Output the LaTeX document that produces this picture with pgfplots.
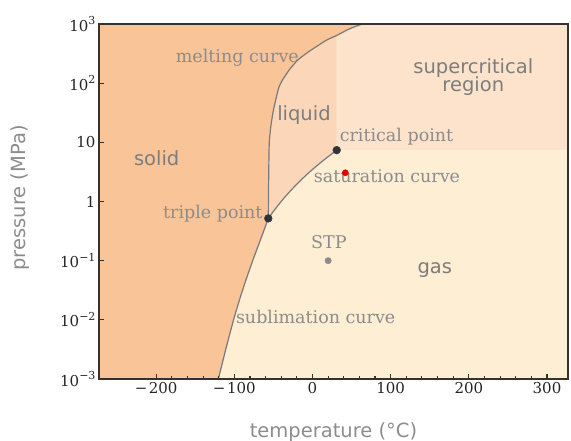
\documentclass[border=0pt]{standalone}
\usepackage{pgfplots}
\pgfplotsset{compat=1.18}
\usepackage{fontspec}
\setmainfont{DejaVu Serif}
\newfontfamily\sansf{DejaVu Sans}
\definecolor{solidc}{RGB}{249,196,152}
\definecolor{liquidc}{RGB}{252,214,184}
\definecolor{superc}{RGB}{253,227,204}
\definecolor{gasc}{RGB}{254,238,212}
\definecolor{serifgray}{RGB}{140,140,140}
\definecolor{sansgray}{RGB}{125,125,125}
\definecolor{curvegray}{RGB}{122,122,122}
\definecolor{ptdark}{RGB}{48,52,58}
\definecolor{axisdark}{RGB}{50,50,50}
\newcommand{\tp}[1]{10\raisebox{0.42em}{\fontsize{11bp}{11bp}\selectfont #1}}
\newcommand{\serl}{\fontsize{17.5bp}{20bp}\selectfont\color{serifgray}}
\newcommand{\sanl}{\fontsize{19.5bp}{20bp}\selectfont\sansf\color{sansgray}}
\begin{document}
\begin{tikzpicture}
\begin{axis}[
  scale only axis, width=469bp, height=355bp,
  xmin=-273.15, xmax=326.85, ymin=1e-3, ymax=1e3,
  ymode=log,
  axis on top,
  axis background/.style={fill=gasc},
  axis line style={axisdark, line width=1.3bp},
  tick style={axisdark, line width=1.1bp},
  major tick length=5bp, minor tick length=3bp,
  tick align=inside, tick pos=left,
  xtick={-200,-100,0,100,200,300},
  xticklabels={−\kern1.5pt200,−\kern1.5pt100,0,100,200,300},
  minor x tick num=4,
  ytick={1e-3,1e-2,1e-1,1,10,100,1000},
  yticklabels={\tp{−3},\tp{−2},\tp{−1},1,10,\tp{2},\tp{3}},
  yminorticks=false,
  ticklabel style={font=\fontsize{15bp}{18bp}\selectfont, text=black!85},
  xlabel={\sansf temperature (°C)},
  ylabel={\sansf pressure (MPa)},
  label style={font=\fontsize{19.5bp}{20bp}\selectfont, text=black!45},
  x label style={at={(axis description cs:0.5,-0.149)}, anchor=center},
  y label style={at={(axis description cs:-0.168,0.51)}, anchor=center, rotate=0},
]
% supercritical region
\addplot[fill=superc, draw=none] coordinates {(31,7.38) (326.85,7.38) (326.85,1000) (31,1000)} -- cycle;
% liquid region
\addplot[fill=liquidc, draw=none] coordinates {
(-56.56,0.518) (-50,0.682) (-45,0.832) (-40,1.005) (-35,1.203) (-30,1.428) (-25,1.683) (-20,1.970) (-15,2.290) (-10,2.649) (-5,3.046) (0,3.485) (5,3.969) (10,4.502) (15,5.086) (20,5.729) (25,6.434) (28,6.90) (31,7.38)
(31,1000) (-100,1000) (-100,0.518)} -- cycle;
% solid region
\addplot[fill=solidc, draw=none] coordinates {
(-273.15,0.001) (-273.15,1000)
(64,1000) (54,900) (44,790) (32,650) (18,535) (8,440) (-5,340) (-19,245) (-30,166) (-39,110) (-43,85) (-46,60) (-50,35) (-53,20) (-55.3,10) (-56,3) (-56.4,1) (-56.56,0.518)
(-62.5,0.316) (-69.5,0.178) (-76.5,0.1) (-84.5,0.05) (-92,0.025) (-101,0.01) (-111,0.00316) (-120.5,0.001)} -- cycle;
% melting curve
\addplot[curvegray, line width=1.2bp, smooth, tension=0.4] coordinates {
(-56.56,0.518) (-56.4,1) (-56,3) (-55.3,10) (-53,20) (-50,35) (-46,60) (-43,85) (-39,110) (-30,166) (-19,245) (-5,340) (8,440) (18,535) (32,650) (44,790) (54,900) (64,1000)};
% sublimation curve
\addplot[curvegray, line width=1.2bp, smooth, tension=0.4] coordinates {
(-56.56,0.518) (-62.5,0.316) (-69.5,0.178) (-76.5,0.1) (-84.5,0.05) (-92,0.025) (-101,0.01) (-111,0.00316) (-120.5,0.001)};
% saturation curve
\addplot[curvegray, line width=1.2bp, smooth, tension=0.4] coordinates {
(-56.56,0.518) (-50,0.682) (-40,1.005) (-30,1.428) (-20,1.970) (-10,2.649) (0,3.485) (10,4.502) (20,5.729) (25,6.434) (31,7.38)};
% points
\addplot[only marks, mark=*, mark size=3.9bp, mark options={fill=ptdark, draw=ptdark}] coordinates {(-56.56,0.518) (31,7.38)};
\addplot[only marks, mark=*, mark size=3.1bp, mark options={fill=red!90!black, draw=red!90!black}] coordinates {(42,3.06)};
\addplot[only marks, mark=*, mark size=3.2bp, mark options={fill=black!45, draw=black!45}] coordinates {(20,0.1)};
% labels
\node[anchor=center] at (rel axis cs:0.295,0.906) {\serl melting curve};
\node[anchor=base] at (rel axis cs:0.437,0.728) {\sanl liquid};
\node[anchor=center, align=center] at (rel axis cs:0.798,0.85) {\sanl supercritical\\[-2bp]\sanl region};
\node[anchor=base west, inner sep=0pt] at (rel axis cs:0.513,0.668) {\serl critical point};
\node[anchor=base] at (rel axis cs:0.123,0.601) {\sanl solid};
\node[anchor=base] at (rel axis cs:0.614,0.553) {\serl saturation curve};
\node[anchor=base east, inner sep=0pt] at (rel axis cs:0.349,0.4535) {\serl triple point};
\node[anchor=base] at (rel axis cs:0.490,0.369) {\serl STP};
\node[anchor=base] at (rel axis cs:0.716,0.296) {\sanl gas};
\node[anchor=base] at (rel axis cs:0.462,0.157) {\serl sublimation curve};
\end{axis}
\pgfresetboundingbox
\path (-99bp,-62bp) rectangle (472bp,379bp);
\end{tikzpicture}
\end{document}
